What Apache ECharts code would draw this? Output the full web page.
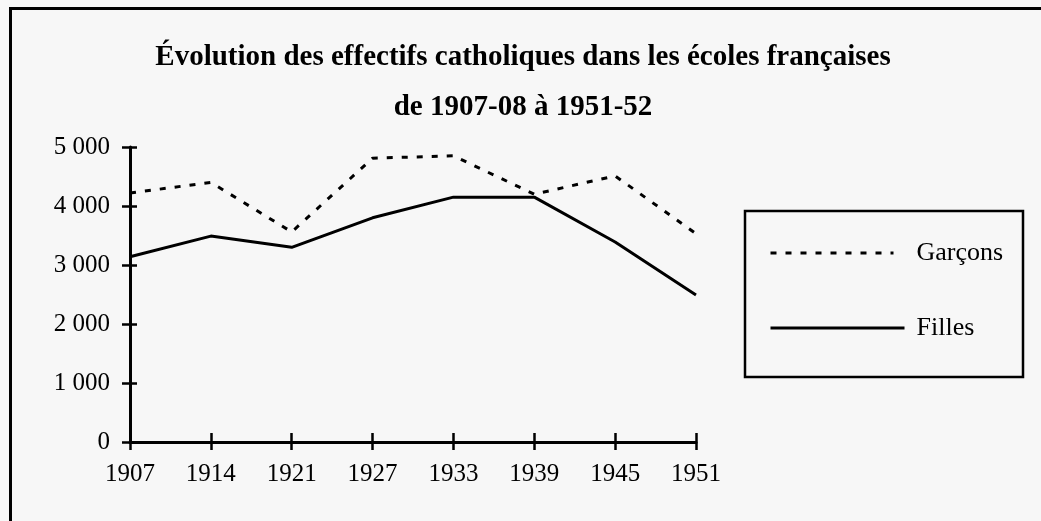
<!DOCTYPE html>
<html>
<head>
<meta charset="utf-8">
<script src="https://cdn.jsdelivr.net/npm/echarts@6/dist/echarts.min.js"></script>
<style>
  html, body { margin: 0; padding: 0; background: #f7f7f7; }
  #chart { width: 1041px; height: 521px; }
</style>
</head>
<body>
<div id="chart"></div>
<script>
// data
const years = ['1907', '1914', '1921', '1927', '1933', '1939', '1945', '1951'];
const garcons = [4220, 4400, 3560, 4810, 4850, 4200, 4510, 3530];
const filles = [3140, 3490, 3300, 3800, 4150, 4150, 3390, 2490];
const yTicks = { min: 0, max: 5000, step: 1000 };

const serif = 'Liberation Serif, Times New Roman, serif';
const ink = '#000';
const dash = [6, 9];

const chart = echarts.init(document.getElementById('chart'));

// thousands with a space: 5000 -> "5 000"
const fmt = (v) => String(v).replace(/\B(?=(\d{3})+(?!\d))/g, ' ');

const option = {
	backgroundColor: '#f7f7f7',
	animation: false,
	title: {
		text: 'Évolution des effectifs catholiques dans les écoles françaises\nde 1907-08 à 1951-52',
		left: 518,
		top: 28,
		textAlign: 'center',
		textStyle: {
			fontFamily: serif,
			fontWeight: 'bold',
			fontSize: 29,
			lineHeight: 50,
			color: ink,
		},
	},
	grid: { left: 130, right: 345, top: 147, bottom: 79 },
	legend: [
		{
			data: ['Garçons'],
			left: 764,
			top: 235,
			itemWidth: 123,
			itemHeight: 24,
			itemStyle: { opacity: 0 },
			lineStyle: { color: ink, width: 3, type: dash },
			textStyle: { fontFamily: serif, fontSize: 26, color: ink, padding: [0, 0, 0, 18] },
		},
		{
			data: ['Filles'],
			left: 764,
			top: 310,
			itemWidth: 134,
			itemHeight: 24,
			itemStyle: { opacity: 0 },
			lineStyle: { color: ink, width: 3, type: 'solid' },
			textStyle: { fontFamily: serif, fontSize: 26, color: ink, padding: [0, 0, 0, 7] },
		},
	],
	xAxis: [
		{
			type: 'category',
			data: years,
			boundaryGap: false,
			axisLine: { lineStyle: { color: ink, width: 3 } },
			axisTick: { show: true, length: 8, lineStyle: { color: ink, width: 2.5 } },
			axisLabel: { margin: 20, fontFamily: serif, fontSize: 25, color: ink },
			splitLine: { show: false },
		},
		{
			// second axis only to get the inner half of the crossing ticks
			type: 'category',
			data: years,
			position: 'bottom',
			boundaryGap: false,
			axisLine: { show: false },
			axisTick: { show: true, inside: true, length: 9, lineStyle: { color: ink, width: 2.5 } },
			axisLabel: { show: false },
			splitLine: { show: false },
		},
	],
	yAxis: [
		{
			type: 'value',
			min: yTicks.min,
			max: yTicks.max,
			interval: yTicks.step,
			axisLine: { show: true, lineStyle: { color: ink, width: 3 } },
			axisTick: { show: true, length: 8, lineStyle: { color: ink, width: 2.5 } },
			axisLabel: { margin: 20, fontFamily: serif, fontSize: 25, color: ink, formatter: fmt },
			splitLine: { show: false },
		},
		{
			type: 'value',
			position: 'left',
			min: yTicks.min,
			max: yTicks.max,
			interval: yTicks.step,
			axisLine: { show: false },
			axisTick: { show: true, inside: true, length: 7, lineStyle: { color: ink, width: 2.5 } },
			axisLabel: { show: false },
			splitLine: { show: false },
		},
	],
	series: [
		{
			name: 'Garçons',
			type: 'line',
			data: garcons,
			symbol: 'none',
			lineStyle: { color: ink, width: 3, type: dash },
			itemStyle: { color: ink },
		},
		{
			name: 'Filles',
			type: 'line',
			data: filles,
			symbol: 'none',
			lineStyle: { color: ink, width: 3, type: 'solid' },
			itemStyle: { color: ink },
		},
	],
	graphic: [
		// outer frame (top and left edges only are visible)
		{ type: 'line', shape: { x1: 9, y1: 8.5, x2: 1041, y2: 8.5 }, style: { stroke: ink, lineWidth: 3 } },
		{ type: 'line', shape: { x1: 10.5, y1: 7, x2: 10.5, y2: 521 }, style: { stroke: ink, lineWidth: 3 } },
		// legend frame
		{ type: 'rect', shape: { x: 745, y: 211, width: 278, height: 166 }, style: { fill: null, stroke: ink, lineWidth: 2.5 }, z: -1 },
	],
};

chart.setOption(option);
</script>
</body>
</html>
